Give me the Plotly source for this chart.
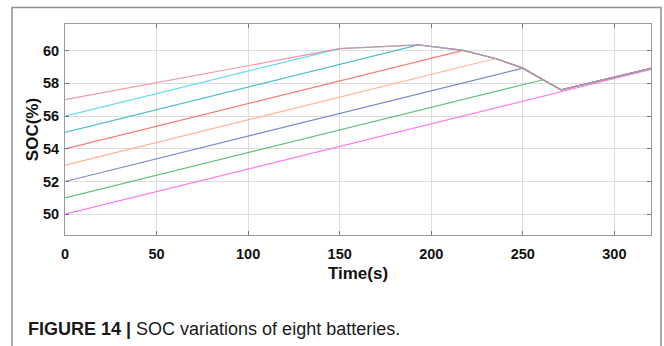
import plotly.graph_objects as go

# Merged (balanced) SOC trajectory once batteries join the top group
env_t = [150, 193, 217.5, 235, 250, 261, 271, 320]
env_soc = [60.12, 60.35, 60.02, 59.52, 58.93, 58.22, 57.6, 58.92]

# Each battery: initial SOC, time it joins the merged group, SOC at that time
start_soc = [57, 56, 55, 54, 53, 52, 51, 50]
join_t = [150, 150, 193, 217.5, 235, 250, 261, None]
join_soc = [60.12, 60.12, 60.35, 60.02, 59.52, 58.93, 58.22, None]
end_soc_last = 58.85  # battery 8 charges independently to the end

colors = ["#ee7f8f", "#3fd6f2", "#22b4bc", "#ff5a5a",
          "#ffa27e", "#5a6cc2", "#3fb35e", "#ff5cf0"]

x_ticks = [0, 50, 100, 150, 200, 250, 300]
y_ticks = [50, 52, 54, 56, 58, 60]

FONT = "Liberation Sans, Arial"

fig = go.Figure()
# draw battery 8 first so battery 1 ends on top of the shared segment
for i in reversed(range(len(start_soc))):
    s0 = start_soc[i]
    if join_t[i] is None:
        t = [0, 320]
        s = [s0, end_soc_last]
    else:
        t = [0, join_t[i]] + [v for v in env_t if v > join_t[i]]
        s = [s0, join_soc[i]] + [env_soc[k] for k, v in enumerate(env_t) if v > join_t[i]]
    fig.add_trace(go.Scatter(x=t, y=s, mode="lines",
                             line=dict(color=colors[i], width=1.2),
                             opacity=0.8, showlegend=False,
                             name=f"Battery {i + 1}"))

axis_common = dict(showline=True, linecolor="#9a9a9a", linewidth=1, mirror="ticks",
                   ticks="inside", ticklen=4, tickcolor="#777777",
                   showgrid=True, gridcolor="#dedede", gridwidth=1, zeroline=False,
                   tickfont=dict(family=FONT, size=14.5, color="#111111", weight="bold"))

fig.update_xaxes(range=[0, 320], tickvals=x_ticks, ticktext=[str(v) for v in x_ticks],
                 ticklabelstandoff=6,
                 title=dict(text="Time(s)", standoff=5,
                            font=dict(family=FONT, size=17, color="#111111", weight="bold")),
                 **axis_common)
fig.update_yaxes(range=[48.73, 61.63], tickvals=y_ticks, ticktext=[str(v) for v in y_ticks],
                 ticklabelstandoff=2,
                 title=dict(text="SOC(%)", standoff=0,
                            font=dict(family=FONT, size=17, color="#111111", weight="bold")),
                 **axis_common)

plot_l, plot_r, plot_t, plot_b = 65, 651, 24, 235
W, H = 664, 346
pw, ph = plot_r - plot_l, plot_b - plot_t


def px(x):
    return (x - plot_l) / pw


def py(y):
    return (plot_b - y) / ph


# Outer figure frame
fig.add_shape(type="rect", xref="paper", yref="paper",
              x0=px(12), x1=px(661), y0=py(360), y1=py(7.5),
              line=dict(color="#8f8f8f", width=1.5), fillcolor="rgba(0,0,0,0)", layer="below")

fig.add_annotation(xref="paper", yref="paper", x=px(26), y=py(329), xanchor="left",
                   yanchor="middle", showarrow=False,
                   text="<b>FIGURE 14 |</b> SOC variations of eight batteries.",
                   font=dict(family=FONT, size=18, color="#1a1a1a"))

fig.update_layout(width=W, height=H,
                  margin=dict(l=plot_l, r=W - plot_r, t=plot_t, b=H - plot_b),
                  paper_bgcolor="white", plot_bgcolor="white")

fig.write_html("out.html")
